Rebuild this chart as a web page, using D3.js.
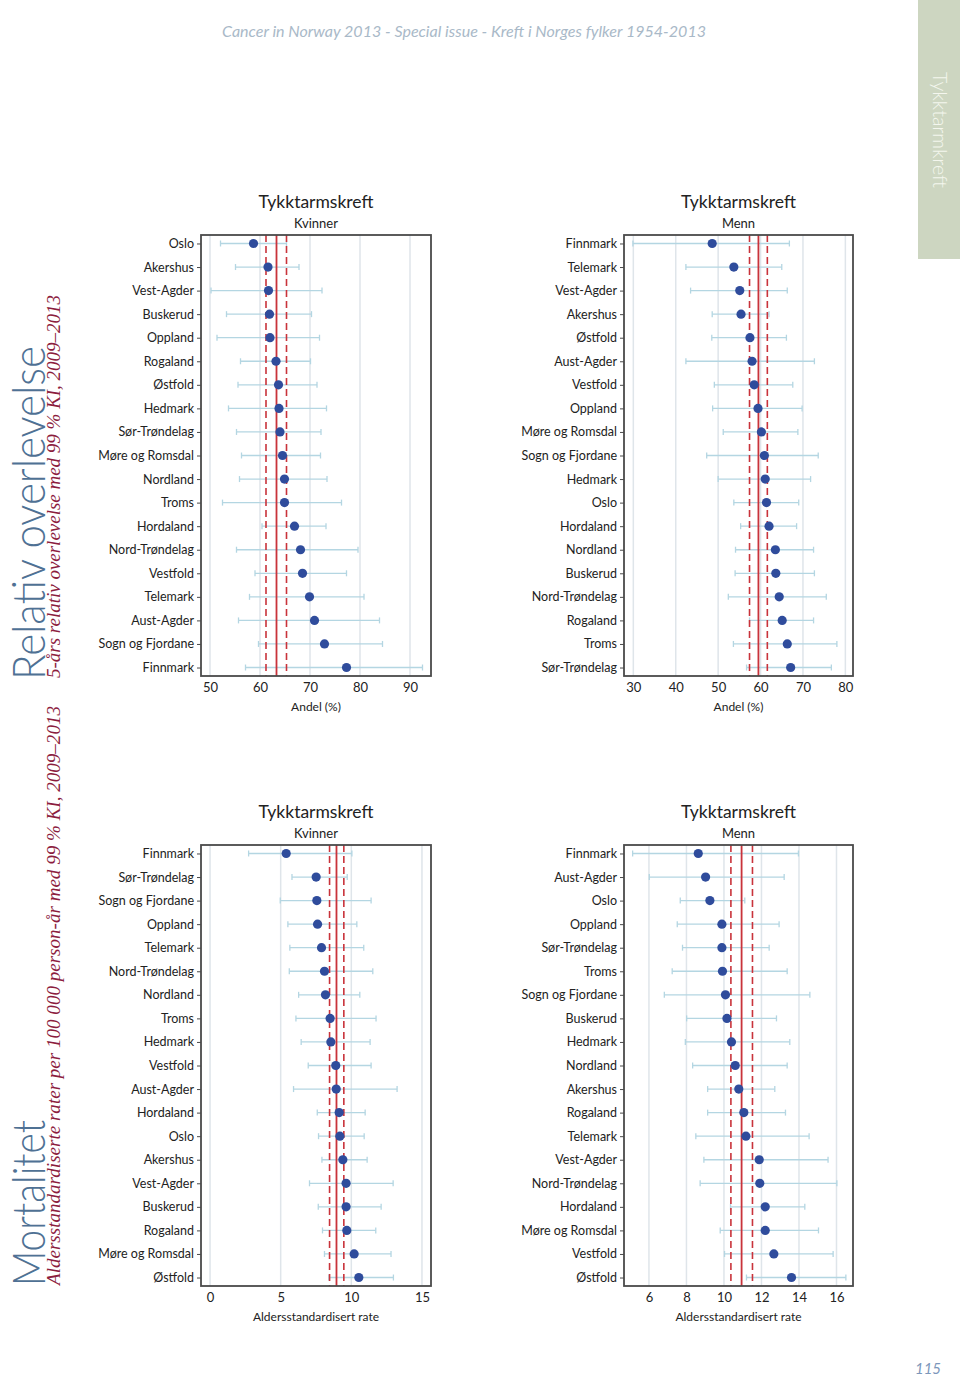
<!DOCTYPE html>
<html><head><meta charset="utf-8">
<script src="https://cdn.jsdelivr.net/npm/d3@7"></script>
<style>body{margin:0;background:#fff}svg{display:block}</style>
</head><body>
<svg id="c" width="960" height="1376"></svg>
<script>
// ---- data ----
const survF_cat = ["Oslo","Akershus","Vest-Agder","Buskerud","Oppland","Rogaland","Østfold","Hedmark","Sør-Trøndelag","Møre og Romsdal","Nordland","Troms","Hordaland","Nord-Trøndelag","Vestfold","Telemark","Aust-Agder","Sogn og Fjordane","Finnmark"];
const survF_val = [58.7,61.6,61.7,61.9,62.0,63.2,63.7,63.8,64.0,64.5,64.9,64.9,66.9,68.1,68.5,69.9,70.9,72.9,77.3];
const survF_lo  = [52.1,55.1,50.2,53.3,51.4,56.1,55.6,53.7,55.3,56.3,55.9,52.5,60.4,55.3,59.0,57.9,55.7,59.7,57.1];
const survF_hi  = [65.3,67.8,72.4,70.3,71.9,70.1,71.4,73.3,72.2,72.1,73.4,76.3,73.2,79.6,77.3,80.8,83.9,84.5,92.5];
const survF_ref = [61.2,63.3,65.3];
const survF_ticks = [50,60,70,80,90];

const survM_cat = ["Finnmark","Telemark","Vest-Agder","Akershus","Østfold","Aust-Agder","Vestfold","Oppland","Møre og Romsdal","Sogn og Fjordane","Hedmark","Oslo","Hordaland","Nordland","Buskerud","Nord-Trøndelag","Rogaland","Troms","Sør-Trøndelag"];
const survM_val = [48.6,53.7,55.1,55.4,57.5,58.0,58.5,59.4,60.2,60.9,61.1,61.4,62.0,63.5,63.6,64.4,65.1,66.3,67.1];
const survM_lo  = [29.9,42.4,43.5,48.6,48.5,42.4,49.1,48.7,51.2,47.3,50.0,53.7,55.3,54.1,54.0,52.4,57.4,53.6,56.7];
const survM_hi  = [66.8,65.0,66.3,62.0,66.1,72.7,67.6,69.8,68.8,73.6,71.8,69.0,68.5,72.5,72.7,75.5,72.5,78.0,76.7];
const survM_ref = [57.4,59.5,61.6];
const survM_ticks = [30,40,50,60,70,80];

const mortF_cat = ["Finnmark","Sør-Trøndelag","Sogn og Fjordane","Oppland","Telemark","Nord-Trøndelag","Nordland","Troms","Hedmark","Vestfold","Aust-Agder","Hordaland","Oslo","Akershus","Vest-Agder","Buskerud","Rogaland","Møre og Romsdal","Østfold"];
const mortF_val = [5.39,7.51,7.56,7.61,7.89,8.10,8.17,8.50,8.55,8.90,8.93,9.14,9.19,9.40,9.63,9.63,9.68,10.20,10.53];
const mortF_lo  = [2.73,5.80,4.97,5.51,5.65,5.61,6.27,6.08,6.45,6.95,5.91,7.59,7.68,7.92,7.04,7.66,7.96,8.10,8.41];
const mortF_hi  = [10.04,9.71,11.40,10.39,10.88,11.52,10.60,11.75,11.33,11.40,13.24,10.98,10.91,11.12,12.96,12.11,11.73,12.81,12.98];
const mortF_ref = [8.46,8.95,9.47];
const mortF_ticks = [0,5,10,15];

const mortM_cat = ["Finnmark","Aust-Agder","Oslo","Oppland","Sør-Trøndelag","Troms","Sogn og Fjordane","Buskerud","Hedmark","Nordland","Akershus","Rogaland","Telemark","Vest-Agder","Nord-Trøndelag","Hordaland","Møre og Romsdal","Vestfold","Østfold"];
const mortM_val = [8.63,9.02,9.25,9.89,9.89,9.92,10.08,10.16,10.40,10.60,10.79,11.06,11.17,11.88,11.91,12.20,12.20,12.66,13.60];
const mortM_lo  = [5.13,6.02,7.67,7.51,7.79,7.24,6.82,8.01,7.94,8.33,9.13,9.13,8.50,8.93,8.73,10.35,9.80,10.03,11.20];
const mortM_hi  = [13.97,13.21,11.11,12.94,12.41,13.37,14.58,12.80,13.51,13.37,12.71,13.28,14.54,15.55,16.02,14.31,15.04,15.82,16.50];
const mortM_ref = [10.37,10.94,11.52];
const mortM_ticks = [6,8,10,12,14,16];

const panelTitle = "Tykktarmskreft";
const sexLabels = ["Kvinner","Menn"];
const axisTitles = ["Andel (%)","Aldersstandardisert rate"];

// ---- drawing ----
const svg = d3.select("#c");
const SANS = "Lato, 'Open Sans', sans-serif";
const C = {grid:"#dfe5ea", err:"#b4d6e2", pt:"#2f4c9c", red:"#c9333b", frame:"#4a4a4a", text:"#222"};

function panel(o){
  const g = svg.append("g");
  const x = d3.scaleLinear().domain(o.domain).range([o.x0, o.x1]);
  const y = d3.scalePoint().domain(o.cat).range([o.y0, o.y1]).padding(0.36);
  g.selectAll(".grid").data(o.ticks).join("line")
    .attr("x1", d=>x(d)).attr("x2", d=>x(d)).attr("y1", o.y0).attr("y2", o.y1)
    .attr("stroke", C.grid).attr("stroke-width", 1.5);
  const rows = o.cat.map((c,i)=>({c, v:o.val[i], lo:o.lo[i], hi:o.hi[i]}));
  g.selectAll(".eb").data(rows).join("line")
    .attr("x1", d=>x(d.lo)).attr("x2", d=>x(d.hi)).attr("y1", d=>y(d.c)).attr("y2", d=>y(d.c))
    .attr("stroke", C.err).attr("stroke-width", 1.3);
  ["lo","hi"].forEach(k=>{
    g.selectAll(".cap"+k).data(rows).join("line")
      .attr("x1", d=>x(d[k])).attr("x2", d=>x(d[k])).attr("y1", d=>y(d.c)-3).attr("y2", d=>y(d.c)+3)
      .attr("stroke", C.err).attr("stroke-width", 1.3);
  });
  g.selectAll(".ref").data(o.ref).join("line")
    .attr("x1", d=>x(d)).attr("x2", d=>x(d)).attr("y1", o.y0).attr("y2", o.y1)
    .attr("stroke", C.red).attr("stroke-width", (d,i)=>i===1?1.8:1.6)
    .attr("stroke-dasharray", (d,i)=>i===1?null:"7,4");
  g.selectAll(".pt").data(rows).join("circle")
    .attr("cx", d=>x(d.v)).attr("cy", d=>y(d.c)).attr("r", 4.6).attr("fill", C.pt);
  g.append("rect").attr("x", o.x0).attr("y", o.y0).attr("width", o.x1-o.x0).attr("height", o.y1-o.y0)
    .attr("fill","none").attr("stroke", C.frame).attr("stroke-width", 1.8);
  const ya = g.append("g").attr("transform", `translate(${o.x0},0)`)
    .call(d3.axisLeft(y).tickSize(4).tickPadding(3));
  ya.select(".domain").remove();
  ya.selectAll("line").attr("stroke", C.frame);
  ya.selectAll("text").attr("font-family", SANS).attr("font-size", 12.5).attr("fill", C.text);
  const xa = g.append("g").attr("transform", `translate(0,${o.y1})`)
    .call(d3.axisBottom(x).tickValues(o.ticks).tickSize(0).tickPadding(7).tickFormat(d3.format("d")));
  xa.select(".domain").remove();
  xa.selectAll("text").attr("font-family", SANS).attr("font-size", 13).attr("fill", C.text);
  const cx = (o.x0+o.x1)/2;
  g.append("text").attr("x", cx).attr("y", o.y0-27).attr("text-anchor","middle")
    .attr("font-family", SANS).attr("font-size", 17.5).attr("fill", C.text).text(panelTitle);
  g.append("text").attr("x", cx).attr("y", o.y0-7).attr("text-anchor","middle")
    .attr("font-family", SANS).attr("font-size", 13).attr("fill", C.text).text(o.sex);
  g.append("text").attr("x", cx).attr("y", o.y1+35).attr("text-anchor","middle")
    .attr("font-family", SANS).attr("font-size", 12).attr("fill", C.text).text(o.axisTitle);
}

const L = [201, 431], R = [624, 853], T = [235, 676], B = [845, 1286];
panel({cat:survF_cat, val:survF_val, lo:survF_lo, hi:survF_hi, ref:survF_ref, ticks:survF_ticks,
  domain:[48.2,94.2], x0:L[0], x1:L[1], y0:T[0], y1:T[1], sex:sexLabels[0], axisTitle:axisTitles[0]});
panel({cat:survM_cat, val:survM_val, lo:survM_lo, hi:survM_hi, ref:survM_ref, ticks:survM_ticks,
  domain:[27.8,81.8], x0:R[0], x1:R[1], y0:T[0], y1:T[1], sex:sexLabels[1], axisTitle:axisTitles[0]});
panel({cat:mortF_cat, val:mortF_val, lo:mortF_lo, hi:mortF_hi, ref:mortF_ref, ticks:mortF_ticks,
  domain:[-0.64,15.64], x0:L[0], x1:L[1], y0:B[0], y1:B[1], sex:sexLabels[0], axisTitle:axisTitles[1]});
panel({cat:mortM_cat, val:mortM_val, lo:mortM_lo, hi:mortM_hi, ref:mortM_ref, ticks:mortM_ticks,
  domain:[4.67,16.88], x0:R[0], x1:R[1], y0:B[0], y1:B[1], sex:sexLabels[1], axisTitle:axisTitles[1]});

// ---- page decorations ----
svg.append("text").attr("x", 464).attr("y", 37).attr("text-anchor","middle")
  .attr("font-family", SANS).attr("font-style","italic")
  .attr("font-size", 16).attr("fill", "#a9b9c8")
  .attr("textLength", 484).attr("lengthAdjust","spacingAndGlyphs")
  .text("Cancer in Norway 2013 - Special issue - Kreft i Norges fylker 1954-2013");

svg.append("rect").attr("x", 918).attr("y", 0).attr("width", 42).attr("height", 259).attr("fill", "#cdd6c1");
svg.append("text").attr("transform","translate(933,72) rotate(90)")
  .attr("font-family", SANS).attr("font-weight",300).attr("font-size", 20).attr("fill", "#f4f6ee")
  .attr("textLength", 116).attr("lengthAdjust","spacingAndGlyphs").text("Tykktarmkreft");

function sideText(x, y, txt, size, len, opts){
  const t = svg.append("text").attr("transform", `translate(${x},${y}) rotate(-90)`)
    .attr("font-size", size).attr("textLength", len).attr("lengthAdjust","spacingAndGlyphs").text(txt);
  Object.entries(opts).forEach(([k,v])=>t.attr(k,v));
}
const big = {"font-family": SANS, "font-weight": 300, "fill": "#4f7194"};
const sub = {"font-family": "'Liberation Serif', serif", "font-style": "italic", "fill": "#8c1d3e"};
sideText(45, 680, "Relativ overlevelse", 46, 334, big);
sideText(60, 678, "5-års relativ overlevelse med 99 % KI, 2009–2013", 19, 383, sub);
sideText(45, 1286, "Mortalitet", 46, 166, big);
sideText(60, 1285, "Aldersstandardiserte rater per 100 000 person-år med 99 % KI, 2009–2013", 19, 579, sub);

svg.append("text").attr("x", 928).attr("y", 1374).attr("text-anchor","middle")
  .attr("font-family", SANS).attr("font-style","italic").attr("font-size", 15).attr("fill", "#7c97bb").text("115");
</script>
</body></html>
